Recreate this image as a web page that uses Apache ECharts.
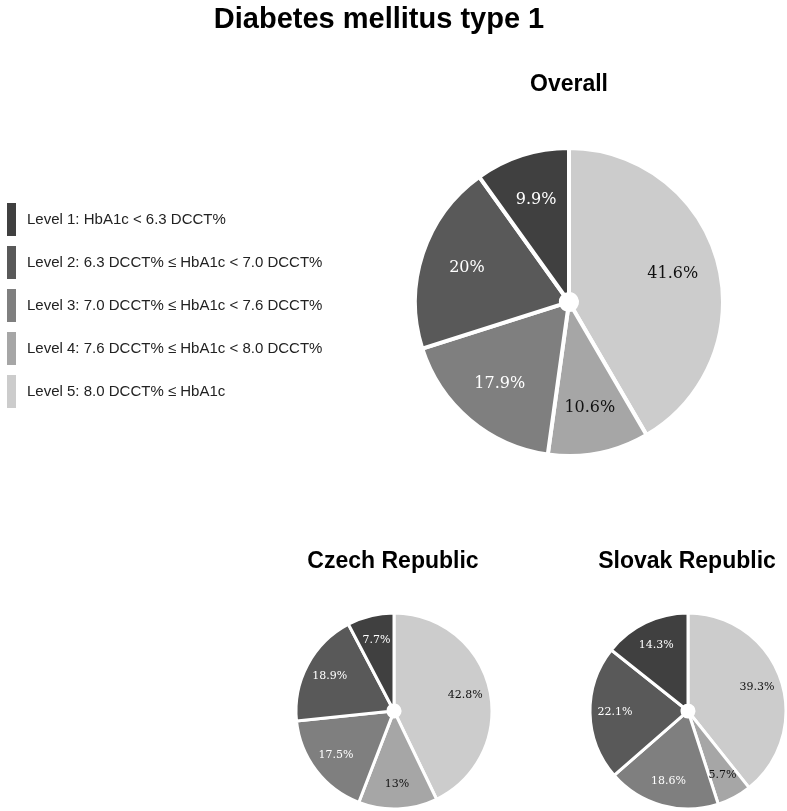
<!DOCTYPE html>
<html>
<head>
<meta charset="utf-8">
<script src="https://cdn.jsdelivr.net/npm/echarts@6/dist/echarts.min.js"></script>
<style>
  html, body { margin: 0; padding: 0; background: #fff; }
  #chart { width: 787px; height: 811px; }
</style>
</head>
<body>
<div id="chart"></div>
<script>
// levels, from 1 to 5
const levels = [
  'Level 1: HbA1c < 6.3 DCCT%',
  'Level 2: 6.3 DCCT% ≤ HbA1c < 7.0 DCCT%',
  'Level 3: 7.0 DCCT% ≤ HbA1c < 7.6 DCCT%',
  'Level 4: 7.6 DCCT% ≤ HbA1c < 8.0 DCCT%',
  'Level 5: 8.0 DCCT% ≤ HbA1c'
]
const levelColors = ['#404040', '#595959', '#7f7f7f', '#a6a6a6', '#cccccc']
const labelColors = ['#fff', '#fff', '#fff', '#111', '#111']

// percentages, level 1..5
const overall = [9.9, 20, 17.9, 10.6, 41.6]
const czech = [7.7, 18.9, 17.5, 13, 42.8]
const slovak = [14.3, 22.1, 18.6, 5.7, 39.3]

var myChart = echarts.init(document.getElementById('chart'))

// slices go clockwise from the top starting with level 5
function pieData(values, forLabels) {
  let out = []
  for (let i = values.length - 1; i >= 0; i--) {
    out.push({
      name: levels[i],
      value: values[i],
      itemStyle: { color: forLabels ? 'transparent' : levelColors[i] },
      label: { color: labelColors[i] }
    })
  }
  return out
}

// the filled pie
function pieSeries(values, center, r0, r, border) {
  return {
    type: 'pie',
    center: center,
    radius: [r0, r],
    startAngle: 90,
    clockwise: true,
    silent: true,
    animation: false,
    itemStyle: { borderColor: '#fff', borderWidth: border },
    label: { show: false },
    labelLine: { show: false },
    data: pieData(values, false)
  }
}

// same slices, invisible, only to place the labels further out
function labelSeries(values, center, r0, r, fontSize) {
  return {
    type: 'pie',
    center: center,
    radius: [r0, r],
    startAngle: 90,
    clockwise: true,
    silent: true,
    animation: false,
    avoidLabelOverlap: false,
    legendHoverLink: false,
    itemStyle: { borderWidth: 0 },
    label: {
      show: true,
      position: 'inside',
      formatter: '{c}%',
      fontFamily: 'DejaVu Serif',
      fontSize: fontSize
    },
    labelLine: { show: false },
    data: pieData(values, true)
  }
}

var titleStyle = { fontFamily: 'Liberation Sans', fontWeight: 'bold', color: '#000' }

var option = {
  backgroundColor: '#fff',
  title: [
    { text: 'Diabetes mellitus type 1', left: 374, top: 0, textAlign: 'center',
      textStyle: Object.assign({ fontSize: 29 }, titleStyle) },
    { text: 'Overall', left: 564, top: 68, textAlign: 'center',
      textStyle: Object.assign({ fontSize: 23 }, titleStyle) },
    { text: 'Czech Republic', left: 388, top: 545, textAlign: 'center',
      textStyle: Object.assign({ fontSize: 23 }, titleStyle) },
    { text: 'Slovak Republic', left: 682, top: 545, textAlign: 'center',
      textStyle: Object.assign({ fontSize: 23 }, titleStyle) }
  ],
  legend: {
    data: levels,
    orient: 'vertical',
    left: 0,
    top: 196,
    icon: 'rect',
    itemWidth: 11,
    itemHeight: 35,
    itemGap: 6,
    selectedMode: false,
    textStyle: { fontFamily: 'Liberation Sans', fontSize: 15, color: '#222', padding: [0, 0, 0, 5] }
  },
  series: [
    pieSeries(overall, [569, 302], 8, 154, 4),
    pieSeries(czech, [394, 711], 6, 98, 3),
    pieSeries(slovak, [688, 711], 6, 98, 3),
    labelSeries(overall, [569, 302], 55, 154, 16),
    labelSeries(czech, [394, 711], 42, 98, 11),
    labelSeries(slovak, [688, 711], 42, 98, 11)
  ]
}
myChart.setOption(option)
</script>
</body>
</html>
